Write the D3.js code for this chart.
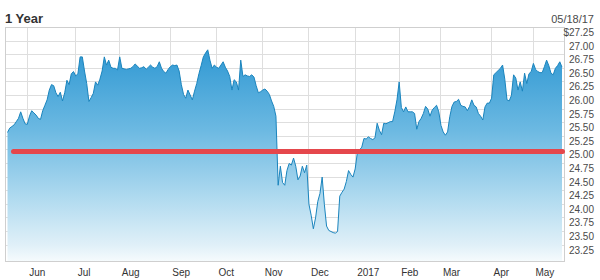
<!DOCTYPE html>
<html><head><meta charset="utf-8">
<script src="https://cdn.jsdelivr.net/npm/d3@7"></script>
<style>body{margin:0;background:#fff;} svg{display:block;font-family:"Liberation Sans",Arial,sans-serif;}</style>
</head><body><svg width="600" height="280"></svg>
<script>
const title = "1 Year";
const asOfDate = "05/18/17";
// daily closes, 05/18/16 .. 05/18/17 (trading days)
const prices = [
25.32,25.40,25.43,25.46,25.52,25.58,25.70,25.58,25.48,25.47,
25.62,25.72,25.68,25.64,25.58,25.56,25.72,25.82,25.92,26.10,
26.20,26.18,26.05,25.98,26.06,25.90,26.05,26.28,26.20,26.40,
26.44,26.36,26.40,26.71,26.71,26.45,26.22,25.89,25.96,26.04,
26.25,26.19,26.30,26.45,26.71,26.56,26.65,26.52,26.50,26.50,
26.47,26.71,26.50,26.49,26.48,26.49,26.50,26.53,26.58,26.54,
26.50,26.51,26.53,26.48,26.52,26.56,26.52,26.50,26.53,26.62,
26.50,26.44,26.41,26.48,26.53,26.56,26.55,26.56,26.45,26.20,
26.02,25.95,26.10,26.01,25.92,26.08,26.22,26.40,26.55,26.71,
26.78,26.84,26.65,26.50,26.56,26.52,26.50,26.56,26.62,26.52,
26.45,26.35,26.10,26.29,26.25,26.10,26.65,26.35,26.38,26.36,
26.35,26.38,26.34,26.18,26.05,26.07,26.10,26.12,26.08,26.02,
25.90,25.80,25.62,24.35,24.70,24.40,24.35,24.62,24.75,24.72,
24.85,24.70,24.45,24.52,24.70,24.58,24.72,24.00,23.80,23.55,
23.75,24.05,24.20,24.50,24.00,23.60,23.52,23.50,23.48,23.47,
23.50,24.15,24.22,24.28,24.42,24.62,24.55,24.50,24.65,24.95,
25.00,25.05,25.21,25.20,25.24,25.21,25.19,25.22,25.49,25.36,
25.28,25.49,25.48,25.50,25.52,25.52,25.70,25.92,26.25,25.78,
25.70,25.79,25.70,25.70,25.70,25.67,25.38,25.52,25.58,25.67,
25.80,25.75,25.62,25.73,25.78,25.82,25.70,25.45,25.33,25.27,
25.33,25.61,25.80,25.88,25.89,25.93,25.82,25.80,25.79,25.72,
25.80,25.92,25.82,25.79,25.67,25.62,25.55,25.79,25.86,25.86,
25.95,26.38,26.42,26.46,26.50,26.56,26.30,25.92,25.90,26.00,
26.38,26.32,26.10,26.25,26.08,26.41,26.22,26.40,26.44,26.59,
26.48,26.44,26.42,26.42,26.53,26.65,26.55,26.41,26.38,26.50,
26.55,26.62,26.52
];
const monthLabels = ["Jun","Jul","Aug","Sep","Oct","Nov","Dec","2017","Feb","Mar","Apr","May"];
const monthStartIndex = [9,31,51,74,95,116,137,158,178,197,220,239];
const yTicks = [27.25,27.00,26.75,26.50,26.25,26.00,25.75,25.50,25.25,25.00,24.75,24.50,24.25,24.00,23.75,23.50,23.25];
const yTickLabels = ["$27.25","27.00","26.75","26.50","26.25","26.00","25.75","25.50","25.25","25.00","24.75","24.50","24.25","24.00","23.75","23.50","23.25"];
const referenceLevel = 25.00;

const svg = d3.select("svg");
const L = 5.5, R = 564.5, T = 27.5, B = 261.5;
const x = d3.scaleLinear().domain([0, prices.length - 1]).range([7.5, 562]);
const y = d3.scaleLinear().domain([23.25, 27.25]).range([245.1, 27.5]);
const crisp = v => Math.round(v - 0.5) + 0.5;

// gradient
const defs = svg.append("defs");
const grad = defs.append("linearGradient").attr("id","fillGrad")
  .attr("gradientUnits","userSpaceOnUse").attr("x1",0).attr("x2",0).attr("y1",T).attr("y2",B);
[[0,"#2b93ce"],[0.14,"#389dd5"],[0.44,"#6cb9e2"],[0.70,"#a9d7ee"],[0.93,"#e0f0f8"],[1,"#f6fbfd"]]
  .forEach(([o,c]) => grad.append("stop").attr("offset",o).attr("stop-color",c));

// grid
const grid = svg.append("g").attr("stroke","#dedede").attr("stroke-width",1).attr("shape-rendering","crispEdges");
grid.selectAll("line.h").data(yTicks).join("line").attr("class","h")
  .attr("x1",L).attr("x2",R).attr("y1",d=>crisp(y(d))).attr("y2",d=>crisp(y(d)));
grid.selectAll("line.v").data(monthStartIndex).join("line").attr("class","v")
  .attr("x1",d=>crisp(x(d))).attr("x2",d=>crisp(x(d))).attr("y1",T).attr("y2",B);

// area + line
const area = d3.area().x((d,i)=>x(i)).y0(B).y1(d=>y(d));
svg.append("path").datum(prices).attr("d",area).attr("fill","url(#fillGrad)");
const line = d3.line().x((d,i)=>x(i)).y(d=>y(d));
svg.append("path").datum(prices).attr("d",line).attr("fill","none")
  .attr("stroke","#1a84bd").attr("stroke-width",1).attr("stroke-linejoin","round");

// border
svg.append("rect").attr("x",L).attr("y",T).attr("width",R-L).attr("height",B-T)
  .attr("fill","none").attr("stroke","#cfcfcf").attr("shape-rendering","crispEdges");

// reference line
svg.append("line").attr("x1",13.5).attr("x2",562.5).attr("y1",y(referenceLevel)+1.5).attr("y2",y(referenceLevel)+1.5)
  .attr("stroke","#e5474c").attr("stroke-width",5).attr("stroke-linecap","round");

// y labels
svg.append("g").selectAll("text").data(yTicks).join("text")
  .attr("x",594).attr("y",d=>y(d)+5).attr("dy","0.35em").attr("text-anchor","end")
  .attr("font-size",10).attr("fill","#4a4a4a").text((d,i)=>yTickLabels[i]);

// month labels
svg.append("g").selectAll("text").data(monthLabels).join("text")
  .attr("x",(d,i)=>x(monthStartIndex[i])+2).attr("y",276).attr("text-anchor","start")
  .attr("font-size",10).attr("fill","#333").text(d=>d);

// title and date
svg.append("text").attr("x",5).attr("y",23).attr("font-size",13).attr("font-weight","bold").attr("fill","#333").text(title);
svg.append("text").attr("x",594).attr("y",23).attr("text-anchor","end").attr("font-size",11).attr("fill","#4a4a4a").text(asOfDate);
</script></body></html>
